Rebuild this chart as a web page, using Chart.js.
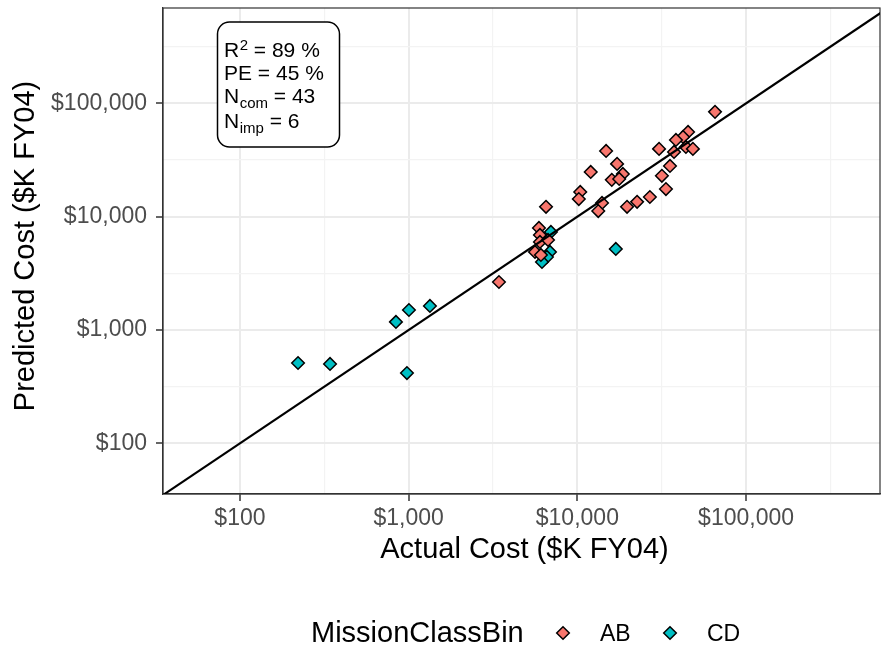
<!DOCTYPE html>
<html>
<head>
<meta charset="utf-8">
<script src="https://cdn.jsdelivr.net/npm/chart.js@4.4.1/dist/chart.umd.min.js"></script>
<style>
  html, body { margin: 0; padding: 0; background: #fff; }
  #contenedor { width: 881px; height: 646px; position: relative; }
</style>
</head>
<body>
<div id="contenedor"><canvas id="graficaCostos"></canvas></div>
<script>
// === DATOS ===
const abActual    = [65450, 45300, 42300, 38400, 30500, 37400, 44000, 48400, 35400, 31700, 33500, 26900,
                     14800, 17200, 12000, 18600, 16000, 17700, 10400, 10200, 14000, 13300, 19700, 22600,
                     6520, 5920, 6000, 6000, 5610, 6080, 3430, 6700];
const abPredicho  = [84000, 55900, 50500, 47500, 39600, 37200, 41200, 39600, 28000, 22900, 17500, 14900,
                     38000, 29200, 24800, 23800, 21100, 21500, 16500, 14300, 13200, 11200, 12200, 13500,
                     12200, 7950, 6890, 5980, 4880, 4590, 2650, 6230];
const cdActual    = [221, 342, 841, 1004, 1337, 977, 16900, 6970, 6880, 6600, 6170];
const cdPredicho  = [511, 501, 1178, 1500, 1628, 417, 5190, 7330, 4880, 4410, 3980];

// Línea de referencia y = x
const lineaX = [10, 10000000];
const lineaY = [10, 10000000];

// Ticks: mayores en potencias de 10, menores a media década
const ticksX = [100, 316.2278, 1000, 3162.278, 10000, 31622.78, 100000, 316227.8];
const ticksY = [100, 316.2278, 1000, 3162.278, 10000, 31622.78, 100000, 316227.8];

const categorias = ['AB', 'CD'];
const colores    = ['#F8766D', '#00BFC4'];

const FUENTE = "'Liberation Sans', Arial, sans-serif";
Chart.defaults.font.family = FUENTE;

function esMayor(v) {
  const l = Math.log10(v);
  return Math.abs(l - Math.round(l)) < 1e-6;
}
function etiqueta(v) {
  return esMayor(v) ? '$' + Math.round(v).toLocaleString('en-US') : '';
}

// Fija el tamaño del eje y quita el relleno extra que Chart.js añade por las etiquetas
function fijarTam(prop, valor) {
  return ax => {
    ax[prop] = valor;
    ax.paddingTop = ax.paddingBottom = ax.paddingLeft = ax.paddingRight = 0;
  };
}

function armarEje(lista, min, max, padding) {
  return {
    type: 'logarithmic',
    min, max,
    afterBuildTicks: ax => { ax.ticks = lista.map(v => ({ value: v })); },
    ticks: {
      autoSkip: false, maxRotation: 0, minRotation: 0, padding,
      color: '#4D4D4D', font: { size: 23 },
      callback: v => etiqueta(v)
    },
    grid: {
      color: c => (c.tick && esMayor(c.tick.value)) ? '#EBEBEB' : '#F3F3F3',
      lineWidth: c => (c.tick && esMayor(c.tick.value)) ? 2 : 1.2,
      tickLength: 7,
      tickWidth: 1.5,
      tickColor: c => (c.tick && esMayor(c.tick.value)) ? '#333333' : 'rgba(0,0,0,0)'
    },
    border: { display: true, color: '#333333', width: 1.2 }
  };
}

// Marco, títulos, recuadro de estadísticos y leyenda
const decoracion = {
  id: 'decoracion',
  beforeDatasetsDraw(chart) {
    const { ctx, chartArea: a } = chart;
    ctx.save();
    ctx.strokeStyle = '#333333';
    ctx.lineWidth = 1.2;
    ctx.strokeRect(a.left, a.top, a.right - a.left, a.bottom - a.top);
    ctx.restore();
  },
  afterDraw(chart) {
    const { ctx, chartArea: a } = chart;
    ctx.save();
    ctx.fillStyle = '#000';
    ctx.textBaseline = 'alphabetic';

    // Títulos de ejes
    ctx.font = `29px ${FUENTE}`;
    ctx.textAlign = 'center';
    ctx.fillText('Actual Cost ($K FY04)', (a.left + a.right) / 2 + 3, 558);
    ctx.save();
    ctx.translate(34, 246);
    ctx.rotate(-Math.PI / 2);
    ctx.fillText('Predicted Cost ($K FY04)', 0, 0);
    ctx.restore();

    // Recuadro
    const bx = 217.5, by = 22, bw = 122, bh = 125, r = 12;
    ctx.beginPath();
    ctx.moveTo(bx + r, by);
    ctx.arcTo(bx + bw, by, bx + bw, by + bh, r);
    ctx.arcTo(bx + bw, by + bh, bx, by + bh, r);
    ctx.arcTo(bx, by + bh, bx, by, r);
    ctx.arcTo(bx, by, bx + bw, by, r);
    ctx.closePath();
    ctx.fillStyle = '#fff';
    ctx.fill();
    ctx.strokeStyle = '#000';
    ctx.lineWidth = 1.5;
    ctx.stroke();

    ctx.fillStyle = '#000';
    ctx.textAlign = 'left';
    const tx = 224;
    const lineas = [
      { base: 'R', ind: '2', sup: true, resto: ' = 89 %', y: 57 },
      { base: 'PE = 45 %', ind: '', resto: '', y: 80 },
      { base: 'N', ind: 'com', sup: false, resto: ' = 43', y: 103 },
      { base: 'N', ind: 'imp', sup: false, resto: ' = 6', y: 128 }
    ];
    lineas.forEach(l => {
      let x = tx;
      ctx.font = `21px ${FUENTE}`;
      ctx.fillText(l.base, x, l.y);
      x += ctx.measureText(l.base).width;
      if (l.ind) {
        ctx.font = `15px ${FUENTE}`;
        ctx.fillText(l.ind, x + 0.5, l.sup ? l.y - 7 : l.y + 5);
        x += ctx.measureText(l.ind).width + 0.5;
      }
      if (l.resto) {
        ctx.font = `21px ${FUENTE}`;
        ctx.fillText(l.resto, x, l.y);
      }
    });

    // Leyenda
    ctx.font = `29px ${FUENTE}`;
    ctx.fillText('MissionClassBin', 311, 642);
    const simbolos = [{ x: 563, tx: 600 }, { x: 670, tx: 707 }];
    simbolos.forEach((s, i) => {
      const cy = 633, h = 6.3;
      ctx.beginPath();
      ctx.moveTo(s.x - h, cy);
      ctx.lineTo(s.x, cy - h);
      ctx.lineTo(s.x + h, cy);
      ctx.lineTo(s.x, cy + h);
      ctx.closePath();
      ctx.fillStyle = colores[i];
      ctx.fill();
      ctx.strokeStyle = '#000';
      ctx.lineWidth = 1.5;
      ctx.stroke();
      ctx.fillStyle = '#000';
      ctx.font = `23px ${FUENTE}`;
      ctx.fillText(categorias[i], s.tx, 641);
    });
    ctx.restore();
  }
};

const puntos = (xs, ys) => xs.map((x, i) => ({ x, y: ys[i] }));

new Chart(document.getElementById('graficaCostos'), {
  type: 'scatter',
  data: {
    datasets: [
      {
        label: 'y = x', type: 'line', order: 0,
        data: puntos(lineaX, lineaY),
        borderColor: '#000', borderWidth: 2.2, pointRadius: 0, fill: false
      },
      {
        label: categorias[0], order: 1,
        data: puntos(abActual, abPredicho),
        pointStyle: 'rectRot', pointRadius: 6.3, pointHoverRadius: 6.3,
        backgroundColor: colores[0], borderColor: '#000', borderWidth: 1.5
      },
      {
        label: categorias[1], order: 2,
        data: puntos(cdActual, cdPredicho),
        pointStyle: 'rectRot', pointRadius: 6.3, pointHoverRadius: 6.3,
        backgroundColor: colores[1], borderColor: '#000', borderWidth: 1.5
      }
    ]
  },
  options: {
    responsive: true,
    maintainAspectRatio: false,
    animation: false,
    layout: { autoPadding: false, padding: { top: 8, right: 1, left: 0, bottom: 0 } },
    plugins: { legend: { display: false }, tooltip: { enabled: false } },
    scales: {
      x: Object.assign(armarEje(ticksX, 35, 622000, 4), { afterFit: fijarTam('height', 152) }),
      y: Object.assign(armarEje(ticksY, 35.7, 693000, 9), { afterFit: fijarTam('width', 163) })
    }
  },
  plugins: [decoracion]
});
</script>
</body>
</html>
